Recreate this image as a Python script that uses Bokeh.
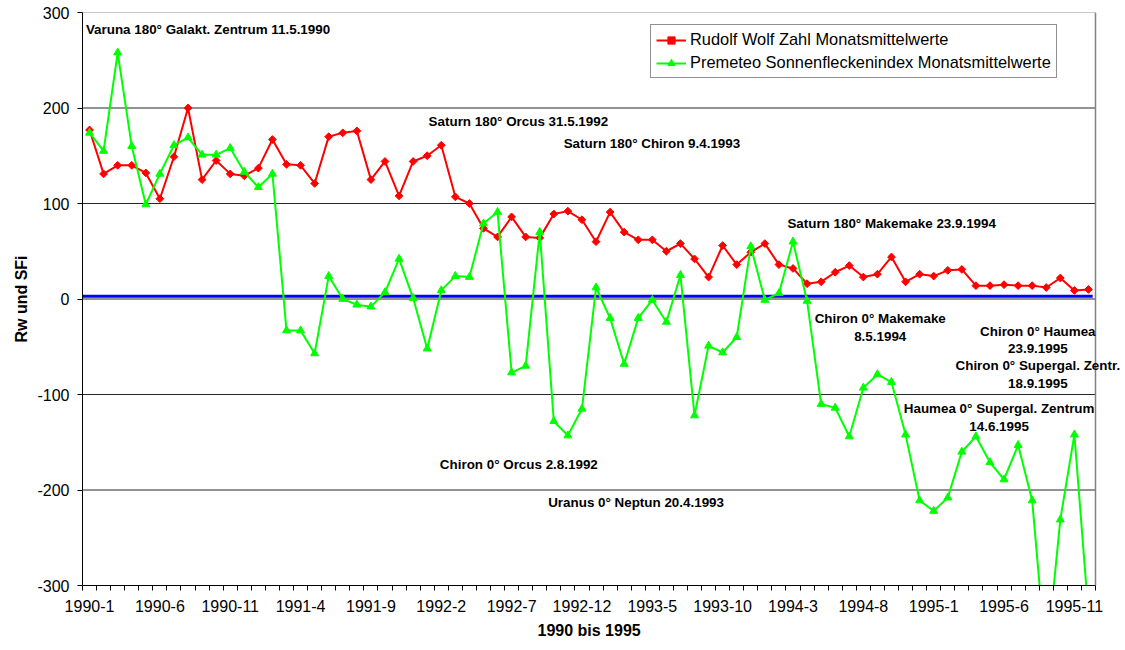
from bokeh.plotting import figure
from bokeh.models import FixedTicker, Legend, LegendItem, Span, Label, Title
from bokeh.embed import file_html
from bokeh.resources import INLINE

# ---------------- data ----------------
months = [f"{y}-{m}" for y in range(1990, 1996) for m in range(1, 13)]

wolf = [177, 131, 140, 140, 132, 105, 149, 200, 125, 145, 131, 129, 137, 167, 141, 140,
        121, 170, 174, 176, 125, 144, 108, 144, 150, 161, 107, 100, 74, 65, 86, 65,
        64, 89, 92, 83, 60, 91, 70, 62, 62, 50, 58, 42, 23, 56, 36, 49, 58, 36, 32,
        16, 18, 28, 35, 23, 26, 44, 18, 26, 24, 30, 31, 14, 14, 15, 14, 14, 12, 22, 9, 10]

premeteo = [174, 155, 258, 160, 99, 131, 161, 169, 151, 151, 158, 133, 117, 131, -33, -33,
            -57, 24, 0, -6, -8, 7, 42, 1, -52, 9, 24, 23, 79, 91, -77, -70,
            70, -128, -143, -115, 12, -20, -68, -20, -1, -24, 25, -122, -49, -56, -40, 55,
            -1, 6, 60, -2, -110, -114, -144, -93, -79, -87, -142, -211, -222, -208, -160, -144,
            -171, -189, -153, -211, -380, -231, -142, -330]

baseline_value = 3

tick_every = 5
y_ticks = [-300, -200, -100, 0, 100, 200, 300]

x_title = "1990 bis 1995"
y_title = "Rw und SFi"

notes = [
    "Varuna 180° Galakt. Zentrum 11.5.1990",
    "Saturn 180° Orcus 31.5.1992",
    "Saturn 180° Chiron 9.4.1993",
    "Saturn 180° Makemake 23.9.1994",
    "Chiron 0° Makemake", "8.5.1994",
    "Chiron 0° Haumea", "23.9.1995",
    "Chiron 0° Supergal. Zentr.", "18.9.1995",
    "Haumea 0° Supergal. Zentrum", "14.6.1995",
    "Chiron 0° Orcus 2.8.1992",
    "Uranus 0° Neptun 20.4.1993",
]
# positions (month index, value) and alignment of the notes
note_x = [-0.26, 24.1, 33.7, 49.6, 56.2, 56.2, 67.4, 67.4, 67.4, 67.4, 64.65, 64.65, 24.9, 32.6]
note_y = [282, 186, 163, 79.4, -20, -39.5, -34, -52, -70, -88.5, -114.7, -133, -173.5, -213]
note_align = ["left", "left", "left", "left", "center", "center", "center", "center",
              "center", "center", "center", "center", "left", "left"]

# ---------------- figure ----------------
FONT = "Liberation Sans"
idx = list(range(len(months)))
x_start = -0.5
x_stop = len(months) - 0.5
# the plot area is 1013 px wide; the frame is extended 30 px further to the right
# so that annotation texts can run past the plot-area border (as in the original)
plot_px, extra_px = 1013, 30
x_end = x_stop + (x_stop - x_start) * extra_px / plot_px

p = figure(width=1125, height=645, output_backend="svg", toolbar_location=None,
           x_range=(x_start, x_end), y_range=(-300, 300),
           min_border_left=82, min_border_right=0, min_border_top=12, min_border_bottom=60)
p.background_fill_color = "white"
p.border_fill_color = "white"
p.outline_line_color = None
p.xgrid.grid_line_color = None
p.ygrid.grid_line_color = None

# horizontal grid lines, limited to the plot area
grid_colors = ["#000000"] * (len(y_ticks) - 1) + ["#808080"]
p.segment(x0=[x_start] * len(y_ticks), x1=[x_stop] * len(y_ticks), y0=y_ticks, y1=y_ticks,
          line_color=grid_colors, line_width=1, line_alpha=0.85)
# right border of the plot area
p.add_layout(Span(location=x_stop, dimension="height", line_color="#808080", line_width=1.5))

# x axis
xa = p.xaxis[0]
xa.bounds = (x_start, x_stop)
xa.ticker = FixedTicker(ticks=idx[::tick_every],
                        minor_ticks=[i - 0.5 for i in range(len(months) + 1)])
xa.major_label_overrides = {i: months[i] for i in idx[::tick_every]}
xa.major_tick_line_color = None
xa.major_tick_out = 5
xa.major_tick_in = 0
xa.minor_tick_out = 5
xa.minor_tick_in = 0
xa.minor_tick_line_color = "black"
xa.axis_line_color = "black"
xa.major_label_text_font = FONT
xa.major_label_text_font_size = "16px"
xa.major_label_text_color = "black"
xa.major_label_standoff = 9

# x title, centred under the 1013 px plot area (not the extended frame)
title_w = 103
p.add_layout(Title(text=x_title, align="left", offset=plot_px / 2 - title_w / 2,
                   text_font=FONT, text_font_size="16px", text_font_style="bold",
                   text_color="black", standoff=11), "below")

# y axis
ya = p.yaxis[0]
ya.ticker = FixedTicker(ticks=y_ticks)
ya.major_label_overrides = {v: str(v) for v in y_ticks}
ya.minor_tick_line_color = None
ya.major_tick_out = 5
ya.major_tick_in = 0
ya.major_tick_line_color = "black"
ya.axis_line_color = "black"
ya.major_label_text_font = FONT
ya.major_label_text_font_size = "16px"
ya.major_label_text_color = "black"
ya.major_label_standoff = 8
ya.axis_label = y_title
ya.axis_label_text_font = FONT
ya.axis_label_text_font_size = "16px"
ya.axis_label_text_font_style = "bold"
ya.axis_label_text_color = "black"
ya.axis_label_standoff = 4

# baseline
p.segment(x0=[x_start], x1=[x_stop - 0.2], y0=[baseline_value], y1=[baseline_value],
          line_color="#0000FF", line_width=3)

# series
red_line = p.line(idx, wolf, line_color="#FF0000", line_width=2)
red_pts = p.scatter(idx, wolf, marker="square", angle=0.785, size=5.5,
                    fill_color="#FF0000", line_color="#FF0000")
green_line = p.line(idx, premeteo, line_color="#00FF00", line_width=2)
green_pts = p.scatter(idx, premeteo, marker="triangle", size=8,
                      fill_color="#00FF00", line_color="#00FF00")

legend = Legend(items=[
    LegendItem(label="Rudolf Wolf Zahl Monatsmittelwerte", renderers=[red_line, red_pts]),
    LegendItem(label="Premeteo Sonnenfleckenindex Monatsmittelwerte", renderers=[green_line, green_pts]),
], location=(568, 507), orientation="vertical")
legend.label_text_font = FONT
legend.label_text_font_size = "16.4px"
legend.label_text_color = "black"
legend.border_line_color = "#222222"
legend.border_line_width = 1
legend.background_fill_color = "white"
legend.background_fill_alpha = 1
legend.padding = 5
legend.margin = 0
legend.spacing = 4
legend.glyph_width = 30
legend.glyph_height = 18
legend.label_height = 18
legend.label_standoff = 4
p.add_layout(legend)

for t, x, y, a in zip(notes, note_x, note_y, note_align):
    p.add_layout(Label(x=x, y=y, text=t, text_align=a, text_baseline="middle",
                       text_font=FONT, text_font_size="13.4px", text_font_style="bold",
                       text_color="black"))

open("out.html", "w").write(file_html(p, INLINE))
